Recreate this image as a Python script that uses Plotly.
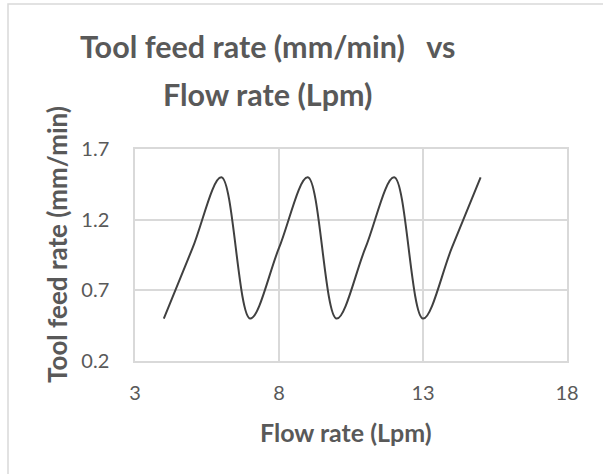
import plotly.graph_objects as go

flow_rate = [4, 5, 6, 7, 8, 9, 10, 11, 12, 13, 14, 15]
feed_rate = [0.5, 1.0, 1.5, 0.5, 1.0, 1.5, 0.5, 1.0, 1.5, 0.5, 1.0, 1.5]
x_ticks = [3, 8, 13, 18]
y_ticks = [0.2, 0.7, 1.2, 1.7]

TXT = "#595959"
GRID = "#d9d9d9"
FONT = "Lato"

W, H = 603, 474
L, R, T, B = 135, 36, 149, 113
pw, ph = W - L - R, H - T - B

def px(x):
    return (x - L) / pw

def py(y):
    return (H - B - y) / ph

fig = go.Figure()
fig.add_trace(go.Scatter(
    x=flow_rate, y=feed_rate, mode="lines",
    line=dict(color="#404040", width=2, shape="spline", smoothing=1),
    hoverinfo="skip", showlegend=False,
))

fig.update_layout(
    width=W, height=H,
    margin=dict(l=L, r=R, t=T, b=B),
    paper_bgcolor="white", plot_bgcolor="white",
    font=dict(family=FONT, color=TXT, size=20),
    xaxis=dict(range=[3, 18], tickvals=x_ticks, ticktext=[str(v) for v in x_ticks],
               showgrid=True, gridcolor=GRID, gridwidth=1.5, zeroline=False,
               showline=True, linecolor=GRID, linewidth=1.5, mirror=True,
               ticks="", ticklen=0, ticklabelstandoff=13,
               tickfont=dict(size=20, color=TXT)),
    yaxis=dict(range=[0.2, 1.7], tickvals=y_ticks, ticktext=[f"{v:.1f}" for v in y_ticks],
               showgrid=True, gridcolor=GRID, gridwidth=1.5, zeroline=False,
               showline=True, linecolor=GRID, linewidth=1.5, mirror=True,
               ticks="", ticklen=0, ticklabelstandoff=20,
               tickfont=dict(size=20, color=TXT)),
    annotations=[
        dict(text="<b>Tool feed rate (mm/min)   vs</b>",
             xref="paper", yref="paper", x=px(268), y=py(46),
             xanchor="center", yanchor="middle", showarrow=False,
             font=dict(size=30.5, color=TXT, family=FONT)),
        dict(text="<b>Flow rate (Lpm)</b>",
             xref="paper", yref="paper", x=px(267), y=py(94),
             xanchor="center", yanchor="middle", showarrow=False,
             font=dict(size=30.5, color=TXT, family=FONT)),
        dict(text="<b>Flow rate (Lpm)</b>",
             xref="paper", yref="paper", x=px(346), y=py(432),
             xanchor="center", yanchor="middle", showarrow=False,
             font=dict(size=25, color=TXT, family=FONT)),
        dict(text="<b>Tool feed rate (mm/min)</b>", textangle=-90,
             xref="paper", yref="paper", x=px(57), y=py(245),
             xanchor="center", yanchor="middle", showarrow=False,
             font=dict(size=26, color=TXT, family=FONT)),
    ],
    shapes=[
        dict(type="rect", xref="paper", yref="paper",
             x0=px(8), x1=px(640), y0=py(4), y1=py(520),
             line=dict(color=GRID, width=1.5), fillcolor="rgba(0,0,0,0)", layer="below"),
    ],
)

fig.write_html("out.html")
